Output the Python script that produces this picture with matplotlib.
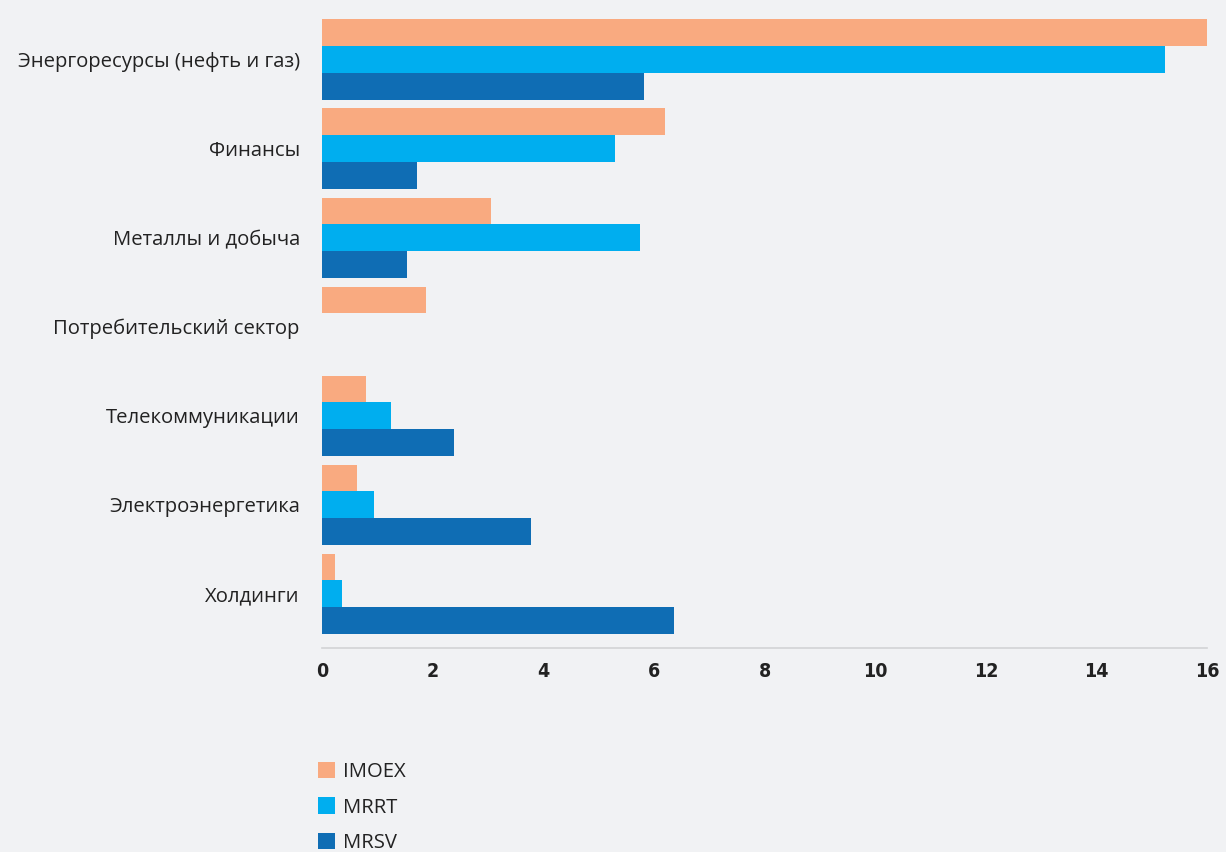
import numpy as np
import matplotlib.pyplot as plt
from matplotlib.patches import Patch

sectors = ["Энергоресурсы (нефть и газ)", "Финансы", "Металлы и добыча",
           "Потребительский сектор", "Телекоммуникации", "Электроэнергетика",
           "Холдинги"]
imoex = [16.0, 6.2, 3.06, 1.88, 0.8, 0.63, 0.23]
mrrt = [15.24, 5.3, 5.75, 0.0, 1.25, 0.94, 0.36]
mrsv = [5.82, 1.72, 1.54, 0.0, 2.39, 3.78, 6.37]
series_names = ["IMOEX", "MRRT", "MRSV"]
colors = ["#f9aa80", "#00aeef", "#0f6db4"]
xticks = [0, 2, 4, 6, 8, 10, 12, 14, 16]

bg = "#f1f2f4"
fig = plt.figure(figsize=(12.26, 8.52), dpi=100, facecolor=bg)
ax = fig.add_axes([322 / 1226, 1 - 648 / 852, (1207 - 322) / 1226, (648 - 19) / 852])
ax.set_facecolor(bg)

y = np.arange(len(sectors))
h = 0.30
for i, (vals, c) in enumerate(zip([imoex, mrrt, mrsv], colors)):
    ax.barh(y + (i - 1) * h, vals, height=h, color=c, edgecolor="none")

ax.set_ylim(6.61, -0.455)
ax.set_xlim(0, 16)
ax.set_yticks(y)
ax.set_yticklabels(sectors, family="Open Sans", fontsize=14.6, color="#222222")
ax.set_xticks(xticks)
ax.set_xticklabels([str(t) for t in xticks], family="DejaVu Sans", stretch="condensed",
                   fontweight="bold", fontsize=14, color="#222222")
ax.tick_params(axis="y", length=0, pad=16)
ax.tick_params(axis="x", length=0, pad=10)
for s in ["top", "right", "left"]:
    ax.spines[s].set_visible(False)
ax.spines["bottom"].set_color("#d2d3d5")
ax.spines["bottom"].set_linewidth(1.2)

handles = [Patch(facecolor=c, edgecolor="none", label=n) for n, c in zip(series_names, colors)]
fig.legend(handles=handles, loc="upper left", bbox_to_anchor=(310 / 1226, 1 - 754 / 852),
           frameon=False, handlelength=0.85, handleheight=0.85, handletextpad=0.4,
           labelspacing=0.75, prop={"family": "Open Sans", "size": 14.6},
           labelcolor="#222222", borderaxespad=0)

fig.savefig("out.png", dpi=100, facecolor=bg)
